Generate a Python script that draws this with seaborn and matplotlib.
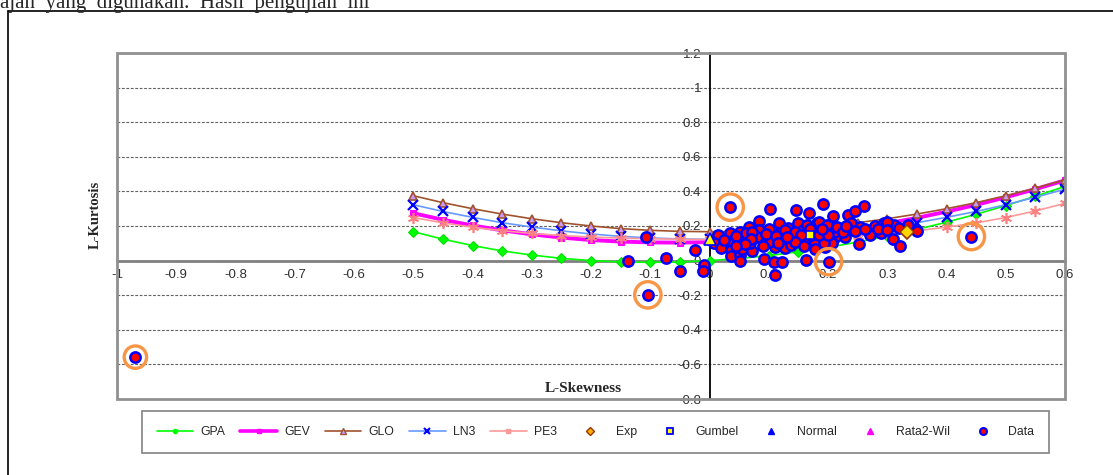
import matplotlib
matplotlib.use("Agg")
import matplotlib.pyplot as plt
import seaborn as sns
from matplotlib.lines import Line2D
from matplotlib.patches import Rectangle

# theoretical L-moment ratio curves
t3 = [-0.50, -0.45, -0.40, -0.35, -0.30, -0.25, -0.20, -0.15, -0.10, -0.05, 0.00,
      0.05, 0.10, 0.15, 0.20, 0.25, 0.30, 0.35, 0.40, 0.45, 0.50, 0.55, 0.60]
gpa = [0.167, 0.124, 0.087, 0.056, 0.032, 0.013, 0.000, -0.008, -0.010, -0.008, 0.000,
       0.012, 0.029, 0.051, 0.077, 0.107, 0.142, 0.180, 0.222, 0.268, 0.318, 0.372, 0.429]
gev = [0.274, 0.236, 0.203, 0.175, 0.152, 0.133, 0.119, 0.110, 0.105, 0.104, 0.107,
       0.115, 0.127, 0.143, 0.163, 0.187, 0.215, 0.247, 0.283, 0.322, 0.366, 0.413, 0.464]
glo = [0.375, 0.335, 0.300, 0.269, 0.242, 0.219, 0.200, 0.185, 0.175, 0.169, 0.167,
       0.169, 0.175, 0.185, 0.200, 0.219, 0.242, 0.269, 0.300, 0.335, 0.375, 0.419, 0.467]
ln3 = [0.323, 0.284, 0.250, 0.219, 0.194, 0.172, 0.154, 0.140, 0.131, 0.125, 0.123,
       0.125, 0.131, 0.140, 0.154, 0.172, 0.194, 0.219, 0.250, 0.284, 0.323, 0.366, 0.413]
pe3 = [0.249, 0.218, 0.193, 0.173, 0.157, 0.145, 0.136, 0.130, 0.126, 0.123, 0.122,
       0.123, 0.126, 0.130, 0.136, 0.145, 0.157, 0.173, 0.193, 0.218, 0.249, 0.287, 0.331]

# single reference points
exp_pt = (0.333, 0.167)
gumbel_pt = (0.170, 0.150)
normal_pt = (0.000, 0.123)
rata_pt = (0.152, 0.158)

# station data (L-skewness, L-kurtosis)
data_skew = [-0.969, -0.104, -0.138, -0.108, -0.074, -0.050, -0.024, -0.010, -0.011,
             0.035, 0.102, 0.146, 0.168, 0.191, 0.208, 0.234, 0.245, 0.260, 0.084,
             0.067, 0.051, 0.034, 0.014, 0.007, 0.019, 0.038, 0.037, 0.036, 0.052,
             0.055, 0.071, 0.051, 0.092, 0.109, 0.123, 0.110, 0.110, 0.100, 0.089,
             0.084, 0.101, 0.118, 0.133, 0.140, 0.123, 0.150, 0.162, 0.178, 0.178,
             0.195, 0.163, 0.201, 0.186, 0.201, 0.212, 0.228, 0.252, 0.238, 0.254,
             0.271, 0.279, 0.294, 0.312, 0.310, 0.322, 0.335, 0.290, 0.053, 0.062,
             0.080, 0.068, 0.127, 0.119, 0.137, 0.157, 0.160, 0.164, 0.172, 0.181,
             0.184, 0.199, 0.210, 0.194, 0.207, 0.193, 0.300, 0.351, 0.442, 0.149,
             0.100, 0.045, 0.072, 0.095, 0.112, 0.128, 0.145, 0.155, 0.170, 0.185,
             0.200, 0.215, 0.225, 0.245, 0.262, 0.285, 0.300, 0.320, 0.070, 0.115,
             0.145, 0.160, 0.190, 0.230, 0.130, 0.090, 0.060, 0.025, 0.045]
data_kurt = [-0.558, -0.198, 0.000, 0.135, 0.014, -0.063, 0.064, -0.025, -0.063,
             0.309, 0.299, 0.293, 0.274, 0.328, 0.256, 0.263, 0.289, 0.316, 0.228,
             0.193, 0.168, 0.162, 0.149, 0.100, 0.070, 0.110, 0.062, 0.027, 0.030,
             0.069, 0.058, 0.000, 0.011, -0.006, -0.008, -0.085, 0.079, 0.105, 0.139,
             0.179, 0.172, 0.216, 0.190, 0.141, 0.120, 0.220, 0.135, 0.100, 0.068,
             0.081, 0.006, -0.006, 0.168, 0.177, 0.137, 0.139, 0.094, 0.220, 0.193,
             0.146, 0.200, 0.218, 0.203, 0.122, 0.083, 0.204, 0.162, 0.120, 0.158,
             0.139, 0.100, 0.072, 0.158, 0.091, 0.177, 0.110, 0.206, 0.149, 0.216,
             0.225, 0.206, 0.168, 0.129, 0.104, 0.100, 0.225, 0.170, 0.139, 0.139,
             0.181, 0.140, 0.165, 0.155, 0.140, 0.175, 0.165, 0.150, 0.180, 0.150,
             0.150, 0.195, 0.165, 0.170, 0.180, 0.185, 0.175, 0.190, 0.125, 0.100,
             0.110, 0.085, 0.185, 0.200, 0.135, 0.085, 0.095, 0.120, 0.085]

# highlighted (circled) stations
circ_skew = [-0.969, -0.104, 0.035, 0.201, 0.442]
circ_kurt = [-0.558, -0.198, 0.309, -0.006, 0.139]

xticks = [-1, -0.9, -0.8, -0.7, -0.6, -0.5, -0.4, -0.3, -0.2, -0.1, 0, 0.1, 0.2, 0.3, 0.4, 0.5, 0.6]
xtick_labels = ["-1", "-0.9", "-0.8", "-0.7", "-0.6", "-0.5", "-0.4", "-0.3", "-0.2", "-0.1",
                "0", "0.1", "0.2", "0.3", "0.4", "0.5", "0.6"]
yticks = [-0.8, -0.6, -0.4, -0.2, 0, 0.2, 0.4, 0.6, 0.8, 1.0, 1.2]
ytick_labels = ["-0.8", "-0.6", "-0.4", "-0.2", "0", "0.2", "0.4", "0.6", "0.8", "1", "1.2"]

sns.set_style("white")
plt.rcParams["font.family"] = ["Liberation Sans", "DejaVu Sans"]
plt.rcParams["axes.unicode_minus"] = False

W, H = 1113, 475
fig = plt.figure(figsize=(W / 100, H / 100), dpi=100)
ax = fig.add_axes([117 / W, 1 - 399 / H, (1065 - 117) / W, (399 - 53) / H])

curve_kw = dict(ax=ax, sort=False, zorder=3)
sns.lineplot(x=t3, y=gpa, color="#00FF00", lw=1.2, marker="D", markersize=5,
             markeredgecolor="#00DD00", **curve_kw)
sns.lineplot(x=t3, y=gev, color="#FF00FF", lw=2.8, marker="s", markersize=4,
             markeredgecolor="#FF00FF", **curve_kw)
sns.lineplot(x=t3, y=glo, color="#A0522D", lw=1.2, marker="^", markersize=6,
             markerfacecolor="#CC99FF", markeredgecolor="#A0522D", markeredgewidth=1.2, **curve_kw)
sns.lineplot(x=t3, y=ln3, color="#6699FF", lw=1.2, marker="x", markersize=7,
             markeredgecolor="#0000FF", markeredgewidth=1.6, **curve_kw)
sns.lineplot(x=t3, y=pe3, color="#FF9999", lw=1.2, marker=(6, 2, 0), markersize=8,
             markeredgecolor="#FF8080", markeredgewidth=1.2, **curve_kw)

sns.scatterplot(x=data_skew, y=data_kurt, ax=ax, s=55, color="#FF0000",
                edgecolor="#0000FF", linewidth=1.8, zorder=5)

ax.plot(*exp_pt, marker="D", ms=7, mfc="#FFD700", mec="#993300", mew=1.2, ls="none", zorder=6)
ax.plot(*gumbel_pt, marker="s", ms=6, mfc="#FFFF00", mec="#0000FF", mew=1.2, ls="none", zorder=6)
ax.plot(*normal_pt, marker="^", ms=8, mfc="#FFFF00", mec="#0000FF", mew=1.2, ls="none", zorder=6)
ax.plot(*rata_pt, marker="^", ms=6, mfc="#FF66FF", mec="#FF00FF", mew=1.0, ls="none", zorder=4)

ax.scatter(circ_skew, circ_kurt, s=[260, 360, 360, 360, 360], facecolors="none",
           edgecolors="#F79646", linewidths=2.4, zorder=6)

ax.set_xlim(-1, 0.6)
ax.set_ylim(-0.8, 1.2)
ax.set_xticks(xticks)
ax.set_xticklabels(xtick_labels)
ax.set_yticks(yticks)
ax.set_yticklabels(ytick_labels)
ax.tick_params(axis="both", direction="out", length=4, width=1, colors="#808080",
               labelcolor="#303030", labelsize=9.5, pad=2)
ax.tick_params(axis="y", colors="#303030")

ax.spines["left"].set_position(("data", 0))
ax.spines["left"].set_color("#000000")
ax.spines["left"].set_linewidth(1.3)
ax.spines["bottom"].set_position(("data", 0))
ax.spines["bottom"].set_color("#808080")
ax.spines["bottom"].set_linewidth(2)
ax.spines["top"].set_visible(False)
ax.spines["right"].set_visible(False)
ax.set_axisbelow(True)
ax.yaxis.grid(True, linestyle=(0, (2.5, 1.5)), color="#606060", lw=0.8)
ax.xaxis.grid(False)
ax.add_patch(Rectangle((0, 0), 1, 1, transform=ax.transAxes, fill=False,
                       edgecolor="#909090", lw=2, clip_on=False, zorder=7))

fig.text(95 / W, 1 - 215 / H, "L-Kurtosis", rotation=90, ha="center", va="center",
         fontsize=10.5, fontweight="bold", family="Liberation Serif")
fig.text(583 / W, 1 - 388 / H, "L-Skewness", ha="center", va="center",
         fontsize=11, fontweight="bold", family="Liberation Serif")

# clipped text line from the surrounding document
fig.text(0.0, 1 - 8 / H, "ajan  yang  digunakan.  Hasil  pengujian  ini", ha="left",
         va="baseline", fontsize=15, family="Liberation Serif")
fig.add_artist(Line2D([8 / W, 8 / W], [0, 1 - 11 / H], transform=fig.transFigure,
                      color="black", lw=1.2))
fig.add_artist(Line2D([8 / W, 1], [1 - 11 / H, 1 - 11 / H], transform=fig.transFigure,
                      color="black", lw=1.2))

handles = [
    Line2D([], [], color="#00FF00", lw=1.2, marker="o", ms=3, label="GPA"),
    Line2D([], [], color="#FF00FF", lw=2.6, marker="s", ms=3.5, label="GEV"),
    Line2D([], [], color="#A0522D", lw=1.2, marker="^", ms=4, mfc="#CC99FF", mec="#A0522D", label="GLO"),
    Line2D([], [], color="#6699FF", lw=1.2, marker="x", ms=4, mec="#0000FF", mew=1.5, label="LN3"),
    Line2D([], [], color="#FF9999", lw=1.2, marker="s", ms=3, label="PE3"),
    Line2D([], [], ls="none", marker="D", ms=4, mfc="#FFB000", mec="#993300", label="Exp"),
    Line2D([], [], ls="none", marker="s", ms=4.5, mfc="#FFFF00", mec="#0000FF", mew=1.3, label="Gumbel"),
    Line2D([], [], ls="none", marker="^", ms=5, mfc="#0000FF", mec="#0000FF", label="Normal"),
    Line2D([], [], ls="none", marker="^", ms=5, mfc="#FF00FF", mec="#FF00FF", label="Rata2-Wil"),
    Line2D([], [], ls="none", marker="o", ms=5, mfc="#FF0000", mec="#0000FF", mew=1.5, label="Data"),
]
leg = fig.legend(handles=handles, ncol=10, loc="center", mode="expand",
                 bbox_to_anchor=(136 / W, 1 - 454 / H, (1055 - 136) / W, 44 / H),
                 fontsize=8.8, handlelength=3.0, handletextpad=0.6, columnspacing=0.8,
                 borderpad=1.2, frameon=True, fancybox=False, edgecolor="#707070")
leg.get_frame().set_linewidth(1.3)

fig.savefig("out.png", dpi=100)
